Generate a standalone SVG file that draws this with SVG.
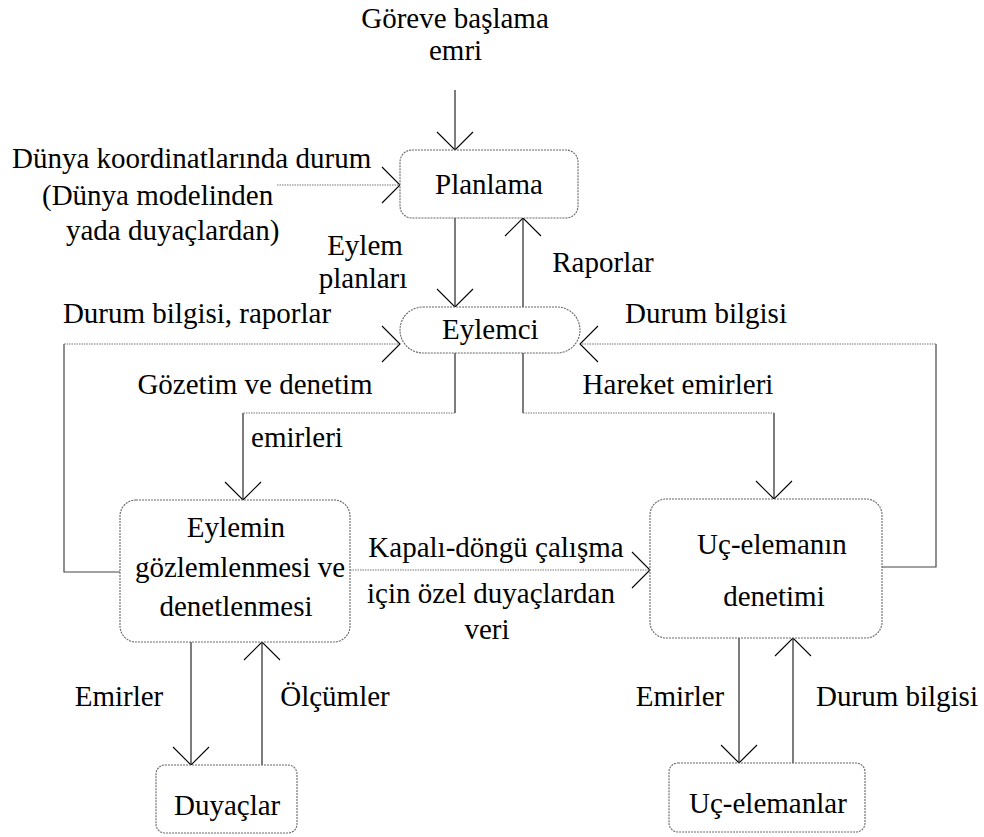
<svg xmlns="http://www.w3.org/2000/svg" width="984" height="837" viewBox="0 0 984 837">
  <defs>
    <marker id="head" markerUnits="userSpaceOnUse" markerWidth="40" markerHeight="40" refX="20" refY="20" orient="auto" overflow="visible">
      <path d="M2,2 L20,20 L2,38" fill="none" stroke="#000" stroke-width="1.1"/>
    </marker>
  </defs>
  <rect width="984" height="837" fill="#fff"/>

  <!-- connectors: solid black verticals, dotted grey horizontals -->
  <g id="connectors" fill="none" stroke-width="1.1">
    <g stroke="#111">
      <line x1="455" y1="90" x2="455" y2="150" marker-end="url(#head)"/>
      <line x1="455" y1="218" x2="455" y2="307" marker-end="url(#head)"/>
      <line x1="523" y1="307" x2="523" y2="218" marker-end="url(#head)"/>
      <line x1="455" y1="353" x2="455" y2="413"/>
      <line x1="243" y1="413" x2="243" y2="500" marker-end="url(#head)"/>
      <line x1="523" y1="353" x2="523" y2="413"/>
      <line x1="774" y1="413" x2="774" y2="499" marker-end="url(#head)"/>
      <line x1="191" y1="642" x2="191" y2="765" marker-end="url(#head)"/>
      <line x1="262" y1="765" x2="262" y2="642" marker-end="url(#head)"/>
      <line x1="739" y1="638" x2="739" y2="763" marker-end="url(#head)"/>
      <line x1="793" y1="763" x2="793" y2="638" marker-end="url(#head)"/>
    </g>
    <g stroke="#444" stroke-width="1.2">
      <polyline points="120,572 64,572 64,344"/>
      <polyline points="882,567 936,567 936,344"/>
    </g>
    <g stroke="#777" stroke-dasharray="1.5 1">
      <line x1="277" y1="185" x2="400" y2="185" marker-end="url(#head)"/>
      <line x1="64" y1="344" x2="400" y2="344" marker-end="url(#head)"/>
      <line x1="936" y1="344" x2="580" y2="344" marker-end="url(#head)"/>
      <line x1="455" y1="413" x2="243" y2="413"/>
      <line x1="523" y1="413" x2="774" y2="413"/>
      <line x1="350" y1="570" x2="650" y2="570" marker-end="url(#head)"/>
    </g>
  </g>

  <!-- nodes -->
  <g id="planlama">
    <rect x="400" y="150" width="178" height="68" rx="12" fill="#fff" stroke="#666" stroke-width="1.1" stroke-dasharray="2 1"/>
    <text font-family="Liberation Serif" font-size="29" x="435" y="194">Planlama</text>
  </g>
  <g id="eylemci">
    <rect x="400" y="307" width="180" height="46" rx="23" fill="#fff" stroke="#666" stroke-width="1.1" stroke-dasharray="2 1"/>
    <text font-family="Liberation Serif" font-size="29" x="442" y="339">Eylemci</text>
  </g>
  <g id="gozlem">
    <rect x="120" y="500" width="230" height="142" rx="16" fill="#fff" stroke="#666" stroke-width="1.1" stroke-dasharray="2 1"/>
    <text style="font-family: 'Liberation Serif', serif" font-size="29" text-anchor="middle" x="236" y="537">Eylemin</text>
    <text style="font-family: 'Liberation Serif', serif" font-size="29" text-anchor="middle" x="240" y="577">gözlemlenmesi ve</text>
    <text style="font-family: 'Liberation Serif', serif" font-size="29" text-anchor="middle" x="236" y="616">denetlenmesi</text>
  </g>
  <g id="uc-denetim">
    <rect x="650" y="499" width="232" height="139" rx="16" fill="#fff" stroke="#666" stroke-width="1.1" stroke-dasharray="2 1"/>
    <text style="font-family: 'Liberation Serif', serif" font-size="29" text-anchor="middle" x="772" y="554">Uç-elemanın</text>
    <text style="font-family: 'Liberation Serif', serif" font-size="29" text-anchor="middle" x="774" y="606">denetimi</text>
  </g>
  <g id="duyaclar">
    <rect x="156" y="765" width="141" height="68" rx="9" fill="#fff" stroke="#666" stroke-width="1.1" stroke-dasharray="2 1"/>
    <text style="font-family: 'Liberation Serif', serif" font-size="29" x="174" y="815">Duyaçlar</text>
  </g>
  <g id="uc-elemanlar">
    <rect x="669" y="763" width="196" height="69" rx="9" fill="#fff" stroke="#666" stroke-width="1.1" stroke-dasharray="2 1"/>
    <text style="font-family: 'Liberation Serif', serif" font-size="29" x="689" y="813">Uç-elemanlar</text>
  </g>

  <!-- labels above the planning box -->
  <text style="font-family: 'Liberation Serif', serif" font-size="29" text-anchor="middle" x="455" y="28">Göreve başlama</text>
  <text style="font-family: 'Liberation Serif', serif" font-size="29" x="429" y="60">emri</text>
  <text style="font-family: 'Liberation Serif', serif" font-size="29" x="12" y="168">Dünya koordinatlarında durum</text>
  <text style="font-family: 'Liberation Serif', serif" font-size="29" x="42" y="205">(Dünya modelinden</text>
  <text style="font-family: 'Liberation Serif', serif" font-size="29" x="66" y="240">yada duyaçlardan)</text>

  <!-- connector labels -->
  <g>
    <text style="font-family: 'Liberation Serif', serif" font-size="29" text-anchor="middle" x="365" y="255">Eylem</text>
    <text style="font-family: 'Liberation Serif', serif" font-size="29" text-anchor="middle" x="363" y="288">planları</text>
    <text style="font-family: 'Liberation Serif', serif" font-size="29" text-anchor="middle" x="603" y="272">Raporlar</text>
    <text style="font-family: 'Liberation Serif', serif" font-size="29" text-anchor="middle" x="197" y="323">Durum bilgisi, raporlar</text>
    <text style="font-family: 'Liberation Serif', serif" font-size="29" text-anchor="middle" x="706" y="323">Durum bilgisi</text>
    <text style="font-family: 'Liberation Serif', serif" font-size="29" text-anchor="middle" x="255" y="394">Gözetim ve denetim</text>
    <text style="font-family: 'Liberation Serif', serif" font-size="29" text-anchor="middle" x="678" y="394">Hareket emirleri</text>
    <text style="font-family: 'Liberation Serif', serif" font-size="29" text-anchor="middle" x="297" y="447">emirleri</text>
    <text style="font-family: 'Liberation Serif', serif" font-size="29" text-anchor="middle" x="496" y="557">Kapalı-döngü çalışma</text>
    <text style="font-family: 'Liberation Serif', serif" font-size="29" text-anchor="middle" x="491" y="603">için özel duyaçlardan</text>
    <text style="font-family: 'Liberation Serif', serif" font-size="29" text-anchor="middle" x="487" y="639">veri</text>
    <text style="font-family: 'Liberation Serif', serif" font-size="29" text-anchor="middle" x="119" y="706">Emirler</text>
    <text style="font-family: 'Liberation Serif', serif" font-size="29" text-anchor="middle" x="335" y="706">Ölçümler</text>
    <text style="font-family: 'Liberation Serif', serif" font-size="29" text-anchor="middle" x="680" y="706">Emirler</text>
    <text style="font-family: 'Liberation Serif', serif" font-size="29" text-anchor="middle" x="897" y="706">Durum bilgisi</text>
  </g>
</svg>
